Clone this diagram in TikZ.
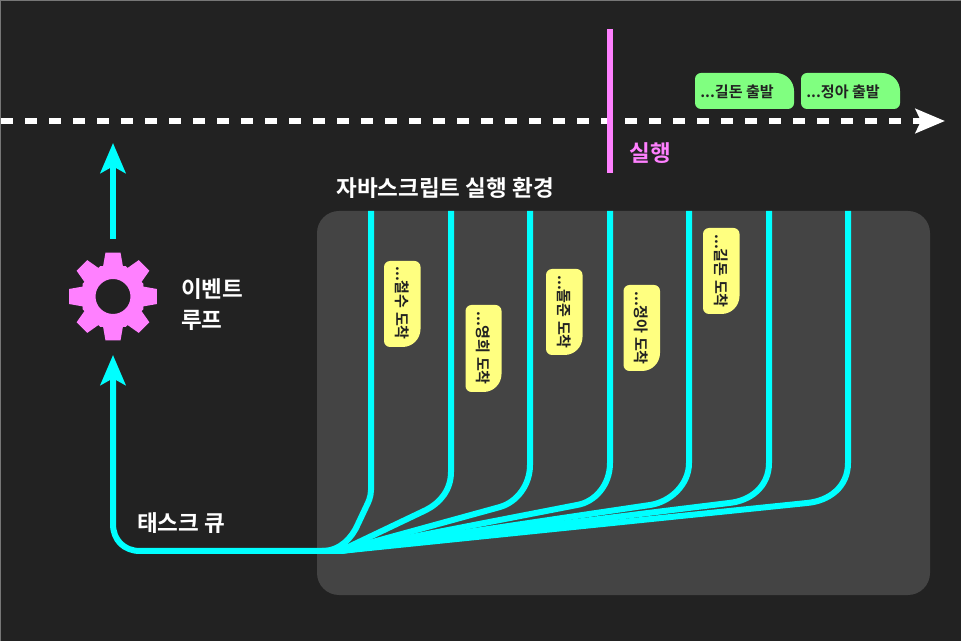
\documentclass[tikz,border=0pt]{standalone}
\usepackage{fontspec}
\setmainfont{Noto Sans CJK KR}[BoldFont={* Bold}]
\usetikzlibrary{arrows.meta}
\definecolor{bgdark}{HTML}{222222}
\definecolor{panelgray}{HTML}{444444}
\definecolor{edgegray}{HTML}{777777}
\definecolor{threadcyan}{HTML}{00FFFF}
\definecolor{pinkmark}{HTML}{FF80FF}
\definecolor{notegreen}{HTML}{80FF80}
\definecolor{noteyellow}{HTML}{FFFF80}
\tikzset{
  thread/.style={draw=threadcyan,line width=4.5pt},
  threadarrow/.style={thread,-{Stealth[length=22.5pt,width=18.75pt,inset=5pt]}},
  timeline/.style={draw=white,line width=4.5pt,dash pattern=on 9pt off 9pt,-{Stealth[length=22pt,width=18pt,inset=4pt]}},
  notetext/.style={text=bgdark,font=\bfseries\fontsize{11.3}{13}\selectfont,inner sep=0pt,anchor=west},
  whitelabel/.style={text=white,font=\bfseries\fontsize{16.9}{20}\selectfont,inner sep=0pt},
}
\begin{document}
\begin{tikzpicture}[x=0.75pt,y=-0.75pt]
\useasboundingbox (0,0) rectangle (961,641);
\fill[bgdark] (0,0) rectangle (961,641);
\draw[edgegray,line width=0.75pt] (0.5,641) -- (0.5,0.5) -- (961,0.5);

% panel
\fill[panelgray,rounded corners=16.5pt] (317,211) rectangle (930,595);
\node[whitelabel,anchor=west] (envlabel) at (336,188.5) {자바스크립트 실행 환경};

% timeline
\coordinate (timestart) at (1,121);
\coordinate (timeend) at (945,121);
\draw[timeline] (timestart) -- (timeend);

\coordinate (nowtop) at (610,29);
\coordinate (nowbottom) at (610,173);
\draw[pinkmark,line width=4.5pt] (nowtop) -- (nowbottom);
\node[whitelabel,anchor=west,text=pinkmark] (nowlabel) at (629,153) {실행};

% departures
\fill[notegreen] (695,91) [rounded corners=4.5pt] -- (695,73) [rounded corners=13.5pt] -- (794,73) [rounded corners=4.5pt] -- (794,109) -- (695,109) -- cycle;
\fill[notegreen] (801,91) [rounded corners=4.5pt] -- (801,73) [rounded corners=13.5pt] -- (900,73) [rounded corners=4.5pt] -- (900,109) -- (801,109) -- cycle;
\node[notetext] (gildonout) at (700,92) {...길돈 출발};
\node[notetext] (jungaout) at (806,92) {...정아 출발};

% threads
\coordinate (merge) at (340,551);
\coordinate (threadA) at (371,211);
\coordinate (threadB) at (451,211);
\coordinate (threadC) at (530,211);
\coordinate (threadD) at (610,211);
\coordinate (threadE) at (689,211);
\coordinate (threadF) at (769,211);
\coordinate (threadG) at (848,211);

\draw[thread] (threadA) -- (371,490) .. controls (371,497) and (368,503) .. (366,507) -- (358,524) .. controls (352,538) and (340,551) .. (322,551);
\draw[thread] (threadB) -- (451,472) .. controls (451,490) and (440,503) .. (426,510) -- (merge);
\draw[thread] (threadC) -- (530,465) .. controls (530,485) and (517,502) .. (500,507) -- (merge);
\draw[thread] (threadD) -- (610,463) .. controls (610,485) and (595,502) .. (577,505) -- (merge);
\draw[thread] (threadE) -- (689,463) .. controls (689,485) and (670,502) .. (650,505) -- (merge);
\draw[thread] (threadF) -- (769,463) .. controls (769,487) and (750,501) .. (729,503) -- (merge);
\draw[thread] (threadG) -- (848,463) .. controls (848,487) and (829,501) .. (807,503) -- (merge);

% notes on the threads
\fill[noteyellow] (402,261) [rounded corners=4.5pt] -- (384,261) -- (384,347) [rounded corners=13.5pt] -- (420.5,347) [rounded corners=4.5pt] -- (420.5,261) -- cycle;
\fill[noteyellow] (483,305) [rounded corners=4.5pt] -- (465.5,305) -- (465.5,392) [rounded corners=13.5pt] -- (501.5,392) [rounded corners=4.5pt] -- (501.5,305) -- cycle;
\fill[noteyellow] (564,269) [rounded corners=4.5pt] -- (546,269) -- (546,355) [rounded corners=13.5pt] -- (582.5,355) [rounded corners=4.5pt] -- (582.5,269) -- cycle;
\fill[noteyellow] (641,285) [rounded corners=4.5pt] -- (623.5,285) -- (623.5,371) [rounded corners=13.5pt] -- (660,371) [rounded corners=4.5pt] -- (660,285) -- cycle;
\fill[noteyellow] (721,228) [rounded corners=4.5pt] -- (703,228) -- (703,314) [rounded corners=13.5pt] -- (739.5,314) [rounded corners=4.5pt] -- (739.5,228) -- cycle;
\node[notetext,rotate=-90] (cheolsu) at (402,266) {...철수 도착};
\node[notetext,rotate=-90] (younghee) at (483,311) {...영희 도착};
\node[notetext,rotate=-90] (doljun) at (564,275) {...돌준 도착};
\node[notetext,rotate=-90] (junga) at (641,291) {...정아 도착};
\node[notetext,rotate=-90] (gildon) at (721,234) {...길돈 도착};

% task queue
\coordinate (queuetip) at (113,355);
\draw[threadarrow] (merge) -- (140,551) .. controls (124,551) and (113,540) .. (113,524) -- (queuetip);
\node[whitelabel,anchor=west] (queuelabel) at (137,523) {태스크 큐};

% event loop
\coordinate (gear) at (113,296.5);
\begin{scope}[shift={(gear)}]
\fill[pinkmark,even odd rule] (-18:32) \foreach \a in {0,45,...,315} {
  -- (\a-18:32) -- (\a-9.7:44.6) -- (\a+9.7:44.6) -- (\a+18:32) -- (\a+22.5:33)
} -- cycle (0,0) circle (17.5);
\end{scope}
\node[whitelabel,anchor=west] (looplabelA) at (181,289) {이벤트};
\node[whitelabel,anchor=west] (looplabelB) at (181,320) {루프};

\coordinate (loopout) at (113,239);
\coordinate (looptip) at (113,143);
\draw[threadarrow] (loopout) -- (looptip);
\end{tikzpicture}
\end{document}
